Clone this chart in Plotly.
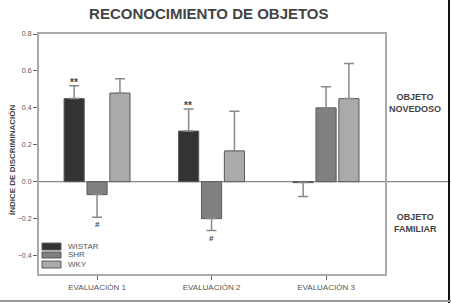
import plotly.graph_objects as go

categories = ["EVALUACIÓN 1", "EVALUACIÓN 2", "EVALUACIÓN 3"]
series_names = ["WISTAR", "SHR", "WKY"]
wistar = [0.45, 0.274, -0.005]
shr = [-0.07, -0.20, 0.40]
wky = [0.48, 0.167, 0.45]
wistar_err = [0.07, 0.12, 0.075]
shr_err = [0.123, 0.065, 0.114]
wky_err = [0.077, 0.215, 0.19]
colors = ["#333333", "#808080", "#aaaaaa"]
y_ticks = [-0.4, -0.2, 0.0, 0.2, 0.4, 0.6, 0.8]

values = [wistar, shr, wky]
errors = [wistar_err, shr_err, wky_err]

fig = go.Figure()
for name, vals, errs, col in zip(series_names, values, errors, colors):
    up = [e if v >= 0 else 0 for v, e in zip(vals, errs)]
    down = [e if v < 0 else 0 for v, e in zip(vals, errs)]
    fig.add_trace(go.Bar(
        name=name, x=categories, y=vals, marker_color=col,
        marker_line=dict(color="#5a5a5a", width=1), showlegend=False, hoverinfo="skip",
        error_y=dict(type="data", symmetric=False, array=up, arrayminus=down,
                     color="#8a8a8a", thickness=1.5, width=5),
    ))

FONT = "Liberation Sans"
ann = []
# significance markers
for i, (v, e) in enumerate(zip(wistar, wistar_err)):
    if i < 2:
        ann.append(dict(x=categories[i], y=v + e, xref="x", yref="y", text="<b>**</b>", showarrow=False,
                        yanchor="bottom", xshift=-23.5, yshift=-4,
                        font=dict(size=10, color="#444", family=FONT)))
for i, (v, e) in enumerate(zip(shr, shr_err)):
    if i < 2:
        ann.append(dict(x=categories[i], y=v - e, xref="x", yref="y", text="<b>#</b>", showarrow=False,
                        yanchor="top", yshift=-1,
                        font=dict(size=8, color="#444", family=FONT)))

ann.append(dict(x=1.087, y=0.427, xref="paper", yref="y", text="<b>OBJETO<br>NOVEDOSO</b>",
                showarrow=False, xanchor="center", yanchor="middle",
                font=dict(size=9, color="#444", family=FONT)))
ann.append(dict(x=1.087, y=-0.226, xref="paper", yref="y", text="<b>OBJETO<br>FAMILIAR</b>",
                showarrow=False, xanchor="center", yanchor="middle",
                font=dict(size=9, color="#444", family=FONT)))
# y axis title
ann.append(dict(x=-0.078, y=0.475, xref="paper", yref="paper", text="<b>ÍNDICE DE DISCRIMINACIÓN</b>",
                textangle=-90, showarrow=False, xanchor="center", yanchor="middle",
                font=dict(size=8, color="#444", family=FONT)))

# manual legend (bottom-left inside plot)
leg_y = [(0.129, 0.100), (0.0917, 0.0667), (0.054, 0.025)]
for name, col, (ya, yb) in zip(series_names, colors, leg_y):
    fig.add_shape(type="rect", xref="paper", yref="paper", x0=0.0087, x1=0.0636, y0=yb, y1=ya,
                  fillcolor=col, line=dict(color="#5a5a5a", width=1))
    ann.append(dict(x=0.078, y=(ya + yb) / 2, xref="paper", yref="paper", text=name, showarrow=False,
                    xanchor="left", yanchor="middle", font=dict(size=8, color="#555", family=FONT)))

fig.update_layout(annotations=ann)

# zero line extending to right edge, image frame
fig.add_shape(type="line", xref="paper", yref="y", x0=0, x1=1.19, y0=0, y1=0,
              line=dict(color="#888", width=1.2), layer="below")
fig.add_shape(type="line", xref="paper", yref="paper", x0=1.185, x1=1.185, y0=-0.2, y1=1.2,
              line=dict(color="#111", width=2))
fig.add_shape(type="line", xref="paper", yref="paper", x0=-0.2, x1=1.2, y0=-0.112, y1=-0.112,
              line=dict(color="#999", width=2))

fig.update_layout(
    width=451, height=303,
    margin=dict(l=39, r=66, t=34, b=29, autoexpand=False),
    paper_bgcolor="white", plot_bgcolor="white",
    barmode="group", bargap=0.4, bargroupgap=0.12,
    title=dict(text="<b>RECONOCIMIENTO DE OBJETOS</b>", x=0.463, xanchor="center", y=0.955, yanchor="middle",
               font=dict(size=15, color="#444", family=FONT)),
    font=dict(family=FONT, color="#555"),
    showlegend=False,
    xaxis=dict(range=[-0.507, 2.515], showline=True, linecolor="#aaa", linewidth=2, mirror=True,
               ticks="outside", ticklen=4, tickcolor="#666", tickfont=dict(size=8, color="#555"),
               showgrid=False, zeroline=False, automargin=False),
    yaxis=dict(range=[-0.5, 0.8], tickvals=y_ticks, tickformat=".1f", showline=True, linecolor="#aaa",
               linewidth=2, mirror=True, ticks="outside", ticklen=4, tickcolor="#666",
               tickfont=dict(size=7, color="#555"), showgrid=False, zeroline=False, automargin=False),
)

fig.write_html("out.html", config={"displayModeBar": False},
               post_script="document.body.style.margin='0px';document.body.style.overflow='hidden';")
